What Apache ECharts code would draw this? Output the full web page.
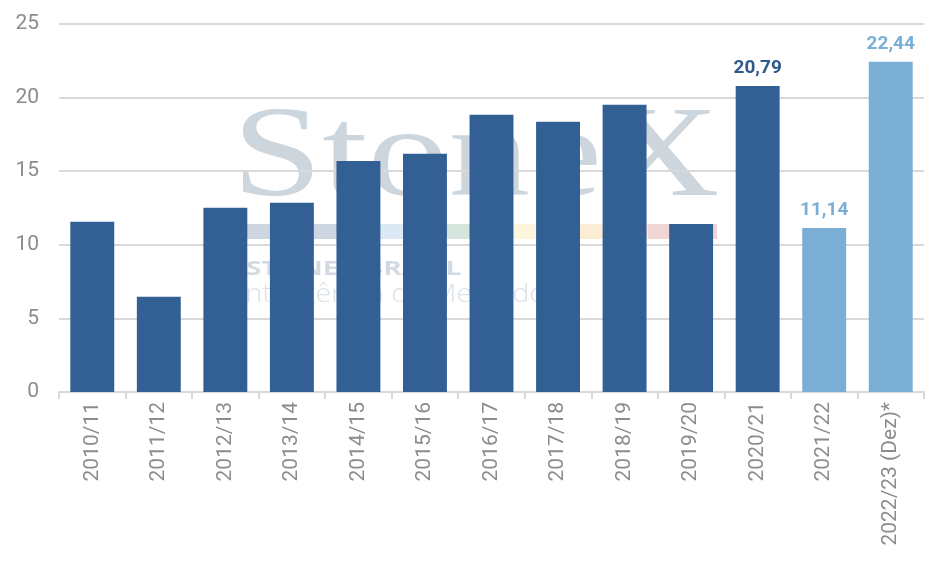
<!DOCTYPE html>
<html lang="pt">
  <head>
    <meta charset="utf-8" />
    <script src="https://cdn.jsdelivr.net/npm/echarts@6/dist/echarts.min.js"></script>
    <style>
      html, body { margin: 0; padding: 0; background: #fff; }
      #chart { width: 945px; height: 567px; }
    </style>
  </head>
  <body>
    <div id="chart"></div>
    <script>
      var safras = ['2010/11', '2011/12', '2012/13', '2013/14', '2014/15', '2015/16', '2016/17',
        '2017/18', '2018/19', '2019/20', '2020/21', '2021/22', '2022/23 (Dez)*']
      var valores = [11.57, 6.47, 12.51, 12.85, 15.7, 16.18, 18.83, 18.36, 19.52, 11.42, 20.79, 11.14, 22.44]
      // quais barras levam rótulo e cor clara
      var comRotulo = [10, 11, 12]
      var estimativa = [11, 12]

      var escuro = '#325f94'
      var claro = '#7aaed5'

      var dados = valores.map(function (v, i) {
        var cor = estimativa.indexOf(i) >= 0 ? claro : escuro
        return {
          value: v,
          itemStyle: { color: cor },
          label: {
            show: comRotulo.indexOf(i) >= 0,
            color: i === 10 ? '#2e5a8c' : claro
          }
        }
      })

      // marca d'água
      var faixa = [
        ['#cdd5e0', 245, 373], ['#dce8f3', 373, 440], ['#d5e4dc', 440, 509],
        ['#fbf6dc', 509, 578], ['#fcecd3', 578, 648], ['#f1d5d5', 648, 717]
      ]
      var marca = faixa.map(function (f) {
        return { type: 'rect', z: -10, shape: { x: f[1], y: 224, width: f[2] - f[1], height: 15 }, style: { fill: f[0] } }
      })
      marca.push({
        type: 'text', z: -10, left: 232, top: 96, scaleX: 1.25,
        style: { text: 'StoneX', font: '130px "Liberation Serif"', fill: '#cdd5dd' }
      })
      marca.push({
        type: 'text', z: -10, left: 246, top: 259, scaleX: 1.4,
        style: { text: 'STONEX BRASIL', font: 'bold 20px "Open Sans"', fill: '#d3dae2' }
      })
      marca.push({
        type: 'text', z: -10, left: 238, top: 282, scaleX: 1.15,
        style: { text: 'Inteligência de Mercado', font: '300 25px "Open Sans"', fill: '#dce2e8' }
      })

      var chart = echarts.init(document.getElementById('chart'))
      chart.setOption({
        animation: false,
        backgroundColor: '#fff',
        graphic: { elements: marca },
        grid: { left: 59, right: 21, top: 24, bottom: 175, containLabel: false },
        xAxis: {
          type: 'category',
          data: safras,
          axisLine: { lineStyle: { color: '#d9d9d9', width: 2 } },
          axisTick: { show: true, length: 7, lineStyle: { color: '#d9d9d9', width: 2 } },
          axisLabel: { rotate: 90, color: '#8c8c8c', fontSize: 21, fontFamily: 'Roboto', margin: 10, interval: 0 }
        },
        yAxis: {
          type: 'value',
          min: 0,
          max: 25,
          interval: 5,
          axisLine: { show: false },
          axisTick: { show: false },
          axisLabel: { color: '#8c8c8c', fontSize: 21, fontFamily: 'Roboto', margin: 20 },
          splitLine: { lineStyle: { color: '#d9d9d9', width: 2 } }
        },
        series: [{
          type: 'bar',
          data: dados,
          barCategoryGap: '34%',
          label: {
            position: 'top',
            distance: 8,
            fontSize: 19,
            fontWeight: 'bold',
            fontFamily: 'Roboto',
            formatter: function (p) { return p.value.toFixed(2).replace('.', ',') }
          }
        }]
      })
    </script>
  </body>
</html>
